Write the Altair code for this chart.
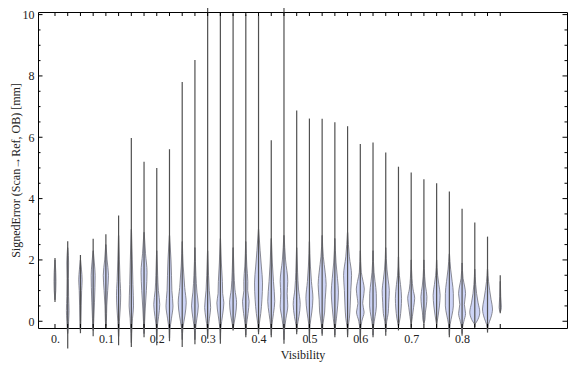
import altair as alt
import pandas as pd

# category positions (Visibility)
visibility = [0.0, 0.025, 0.05, 0.075, 0.1, 0.125, 0.15, 0.175, 0.2, 0.225,
              0.25, 0.275, 0.3, 0.325, 0.35, 0.375, 0.4, 0.425, 0.45, 0.475,
              0.5, 0.525, 0.55, 0.575, 0.6, 0.625, 0.65, 0.675, 0.7, 0.725,
              0.75, 0.775, 0.8, 0.825, 0.85, 0.875]

err_max = [2.06, 2.61, 2.16, 2.69, 2.84, 3.45, 5.98, 5.2, 5.0, 5.61,
           7.8, 8.52, 10.24, 10.05, 10.03, 10.0, 9.96, 5.9, 10.31, 6.87,
           6.61, 6.6, 6.49, 6.36, 5.78, 5.83, 5.5, 5.04, 4.85, 4.63,
           4.5, 4.23, 3.67, 3.22, 2.76, 1.5]

err_min = [0.63, -0.89, -0.39, -0.49, -0.22, -0.78, -0.84, -0.52, -0.78, -0.65,
           -0.84, -0.75, -0.57, -0.73, -0.3, -0.52, -0.42, -0.52, -0.73, -0.42,
           -0.68, -0.47, -0.52, -0.52, -0.68, -0.52, -0.47, -0.3, -0.2, -0.1,
           -0.2, -0.52, -0.47, -0.19, -0.37, 0.26]

# violin profiles: (SignedError value, relative density half-width)
profiles = [
    [(2.0, 0.15), (1.6, 0.8), (1.3, 1.0), (1.0, 0.8), (0.7, 0.15)],
    [(2.4, 0.15), (1.9, 0.9), (1.4, 0.7), (0.8, 0.9), (0.35, 1.3), (0.0, 0.9), (-0.4, 0.15)],
    [(2.0, 0.15), (1.7, 1.0), (1.35, 1.7), (1.0, 1.2), (0.5, 0.8), (0.0, 0.5), (-0.3, 0.15)],
    [(2.3, 0.15), (1.9, 1.2), (1.5, 2.0), (1.1, 1.8), (0.6, 1.3), (0.1, 0.7), (-0.3, 0.15)],
    [(2.5, 0.15), (2.0, 1.2), (1.5, 2.6), (1.0, 1.8), (0.5, 0.9), (0.0, 0.5), (-0.15, 0.15)],
    [(2.8, 0.15), (2.0, 0.8), (1.3, 1.5), (0.85, 2.1), (0.4, 1.6), (0.0, 0.8), (-0.5, 0.15)],
    [(3.0, 0.15), (2.0, 1.0), (1.2, 1.6), (0.5, 2.2), (0.1, 1.2), (-0.4, 0.4), (-0.7, 0.15)],
    [(2.9, 0.15), (2.2, 1.5), (1.6, 3.0), (1.0, 2.3), (0.4, 1.2), (0.0, 0.6), (-0.4, 0.15)],
    [(2.3, 0.15), (1.5, 0.9), (1.0, 1.6), (0.55, 3.0), (0.15, 1.8), (-0.2, 0.5), (-0.6, 0.15)],
    [(2.8, 0.15), (2.0, 1.5), (1.5, 2.0), (1.0, 2.4), (0.5, 3.5), (0.1, 2.0), (-0.3, 0.4), (-0.55, 0.15)],
    [(2.6, 0.15), (1.8, 1.0), (1.1, 2.5), (0.6, 4.0), (0.2, 2.8), (-0.2, 0.8), (-0.6, 0.15)],
    [(2.4, 0.15), (1.5, 1.0), (0.95, 2.0), (0.5, 3.4), (0.1, 2.0), (-0.3, 0.5), (-0.6, 0.15)],
    [(2.3, 0.15), (1.5, 0.9), (1.0, 1.6), (0.45, 3.0), (0.1, 1.8), (-0.25, 0.5), (-0.5, 0.15)],
    [(2.7, 0.15), (1.9, 1.0), (1.3, 2.0), (0.9, 2.3), (0.6, 3.5), (0.2, 2.2), (-0.2, 0.6), (-0.6, 0.15)],
    [(2.4, 0.15), (1.6, 0.9), (1.05, 1.8), (0.6, 3.5), (0.2, 2.4), (-0.1, 0.8), (-0.25, 0.15)],
    [(2.6, 0.15), (1.8, 1.0), (1.3, 2.0), (1.0, 1.9), (0.65, 3.3), (0.25, 2.2), (-0.15, 0.6), (-0.45, 0.15)],
    [(3.0, 0.15), (2.3, 1.6), (1.8, 2.8), (1.25, 4.0), (0.7, 3.4), (0.25, 2.2), (-0.1, 0.7), (-0.35, 0.15)],
    [(2.7, 0.15), (1.9, 1.1), (1.3, 2.2), (0.65, 3.5), (0.25, 2.2), (-0.15, 0.6), (-0.45, 0.15)],
    [(2.8, 0.15), (2.0, 1.6), (1.3, 3.8), (0.9, 3.2), (0.5, 3.8), (0.1, 2.0), (-0.3, 0.5), (-0.6, 0.15)],
    [(2.4, 0.15), (1.6, 0.9), (1.05, 1.8), (0.55, 3.5), (0.15, 2.2), (-0.15, 0.6), (-0.35, 0.15)],
    [(2.6, 0.15), (1.8, 1.0), (1.3, 2.0), (0.75, 3.5), (0.3, 2.4), (-0.1, 0.7), (-0.55, 0.15)],
    [(2.8, 0.15), (2.1, 1.2), (1.6, 3.0), (1.2, 4.0), (0.7, 3.0), (0.3, 2.5), (-0.1, 0.8), (-0.4, 0.15)],
    [(2.7, 0.15), (1.9, 1.2), (1.4, 2.6), (0.95, 3.6), (0.5, 2.8), (0.1, 1.6), (-0.2, 0.5), (-0.45, 0.15)],
    [(2.9, 0.15), (2.1, 1.8), (1.5, 4.0), (1.0, 3.2), (0.5, 2.6), (0.1, 1.8), (-0.2, 0.5), (-0.45, 0.15)],
    [(2.3, 0.15), (1.6, 1.0), (1.3, 2.8), (1.05, 4.0), (0.75, 3.0), (0.58, 2.4), (0.3, 3.8), (0.0, 1.5), (-0.3, 0.4), (-0.6, 0.15)],
    [(2.3, 0.15), (1.6, 1.0), (1.3, 2.0), (0.9, 3.3), (0.5, 3.4), (0.15, 2.0), (-0.15, 0.6), (-0.45, 0.15)],
    [(2.4, 0.15), (1.7, 1.2), (1.35, 2.4), (1.0, 3.6), (0.6, 3.0), (0.25, 2.4), (0.0, 1.0), (-0.35, 0.15)],
    [(2.1, 0.15), (1.5, 0.9), (1.2, 2.0), (0.75, 3.1), (0.4, 2.6), (0.1, 1.6), (-0.15, 0.15)],
    [(2.0, 0.15), (1.4, 0.8), (1.05, 1.8), (0.75, 3.5), (0.45, 2.4), (0.15, 1.2), (-0.1, 0.15)],
    [(2.0, 0.15), (1.45, 0.8), (1.15, 1.6), (0.8, 3.0), (0.5, 2.4), (0.3, 1.5), (0.05, 1.0), (-0.05, 0.15)],
    [(2.0, 0.15), (1.5, 1.0), (1.2, 2.2), (0.85, 3.5), (0.5, 2.8), (0.2, 1.6), (-0.1, 0.15)],
    [(2.2, 0.15), (1.7, 1.3), (1.3, 2.8), (0.9, 4.0), (0.5, 4.0), (0.2, 2.6), (-0.1, 0.8), (-0.45, 0.15)],
    [(1.9, 0.15), (1.4, 1.0), (1.15, 2.5), (0.9, 3.5), (0.55, 2.3), (0.25, 3.5), (0.0, 1.8), (-0.2, 0.5), (-0.4, 0.15)],
    [(1.7, 0.15), (1.2, 0.9), (0.9, 1.8), (0.6, 3.3), (0.3, 5.0), (0.05, 3.0), (-0.1, 0.15)],
    [(1.7, 0.15), (1.3, 1.0), (1.0, 2.2), (0.7, 3.6), (0.4, 5.0), (0.1, 3.2), (-0.1, 1.0), (-0.3, 0.15)],
    [(1.3, 0.15), (0.8, 0.5), (0.45, 1.1), (0.3, 0.15)],
]

x_label_values = [0.0, 0.1, 0.2, 0.3, 0.4, 0.5, 0.6, 0.7, 0.8]
y_label_values = [0, 2, 4, 6, 8, 10]
y_minor_values = [0.5, 1, 1.5, 2.5, 3, 3.5, 4.5, 5, 5.5, 6.5, 7, 7.5, 8.5, 9, 9.5]

X_TITLE = "Visibility"
Y_TITLE = "SignedError (Scan\u2192Ref, OB) [mm]"

# ---- layout ----
W, H = 529, 316
X_DOMAIN = [-0.0334, 1.0062]
Y_DOMAIN = [-0.22, 10.085]
DENS_SCALE = (X_DOMAIN[1] - X_DOMAIN[0]) / W  # density unit -> x units

FONT = "Liberation Serif"

rows = []
for v, prof in zip(visibility, profiles):
    for e, d in prof:
        rows.append({"vis": v, "err": e, "lo": v - d * DENS_SCALE, "hi": v + d * DENS_SCALE})
prof_df = pd.DataFrame(rows)
whisk_df = pd.DataFrame({"vis": visibility, "emin": err_min, "emax": err_max})
ymaj_df = pd.DataFrame({"t": y_label_values})
ymin_df = pd.DataFrame({"t": y_minor_values})

xs = alt.Scale(domain=X_DOMAIN, nice=False, zero=False)
ys = alt.Scale(domain=Y_DOMAIN, nice=False, zero=False)

x_axis = alt.Axis(values=x_label_values, ticks=False, domain=False, grid=False,
                  labelExpr="datum.value == 0 ? '0.' : format(datum.value, '.1f')",
                  labelPadding=5, titlePadding=5, labelFlush=False, labelOverlap=False)
y_axis = alt.Axis(values=y_label_values, ticks=False, domain=False, grid=False,
                  format="d", labelPadding=4, titlePadding=0, labelOverlap=False)


def X(field):
    return alt.X(field, type="quantitative", scale=xs, axis=x_axis, title=X_TITLE)


def Y(field):
    return alt.Y(field, type="quantitative", scale=ys, axis=y_axis, title=Y_TITLE)


violins = alt.Chart(prof_df).mark_area(
    orient="horizontal", interpolate="monotone", fill="#cdd4f6",
    stroke="#707078", strokeWidth=0.8, clip=False
).encode(
    y=Y("err"),
    x=X("lo"),
    x2="hi:Q",
    detail="vis:N",
)

whiskers = alt.Chart(whisk_df).mark_rule(
    color="#505050", strokeWidth=1.2, clip=False
).encode(
    x=X("vis"),
    y=Y("emin"),
    y2="emax:Q",
)


def xticks(y0, y1):
    return alt.Chart(whisk_df).mark_rule(color="black", strokeWidth=1).encode(
        x=X("vis"), y=alt.value(y0), y2=alt.value(y1))


def yticks(df, x0, x1):
    return alt.Chart(df).mark_rule(color="black", strokeWidth=1).encode(
        y=Y("t"), x=alt.value(x0), x2=alt.value(x1))


chart = alt.layer(
    violins, whiskers,
    xticks(H, H - 4), xticks(0, 4),
    yticks(ymaj_df, 0, 4.5), yticks(ymin_df, 0, 2.5),
    yticks(ymaj_df, W, W - 4.5), yticks(ymin_df, W, W - 2.5),
).properties(
    width=W, height=H,
    autosize=alt.AutoSizeParams(type="none"),
    padding={"left": 30, "top": 4, "right": 1, "bottom": 36},
).configure_view(
    stroke="black", strokeWidth=1
).configure_axis(
    labelFont=FONT, titleFont=FONT, labelFontSize=12, titleFontSize=12,
    labelColor="#222222", titleColor="#222222", titleFontWeight="normal",
)

chart.save("out.html", embed_options={"renderer": "svg", "actions": False})
